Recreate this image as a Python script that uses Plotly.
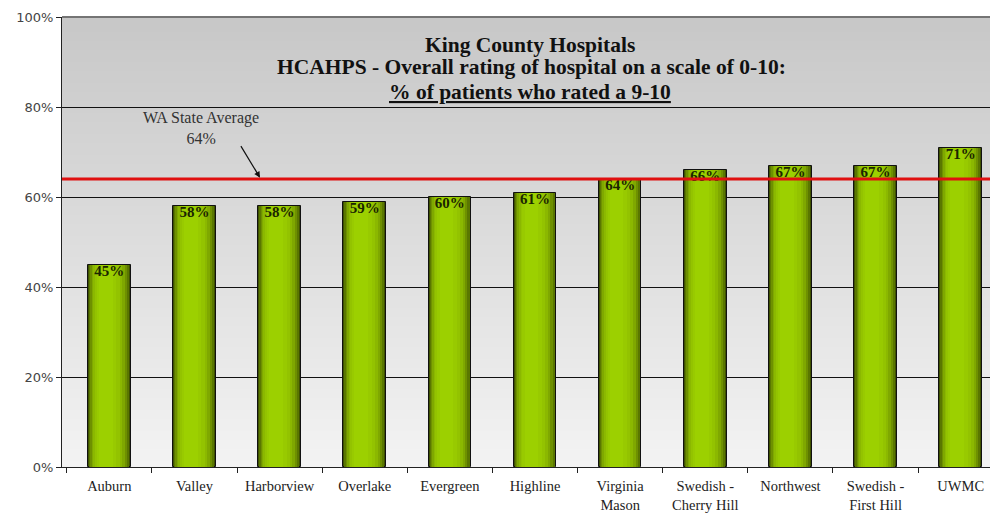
import plotly.graph_objects as go

hospitals = ["Auburn", "Valley", "Harborview", "Overlake", "Evergreen", "Highline",
             "Virginia<br>Mason", "Swedish -<br>Cherry Hill", "Northwest",
             "Swedish -<br>First Hill", "UWMC"]
pct_rated_9_10 = [45, 58, 58, 59, 60, 61, 64, 66, 67, 67, 71]
state_average = 64
y_ticks = [0, 20, 40, 60, 80, 100]
y_tick_labels = ["0%", "20%", "40%", "60%", "80%", "100%"]

fig = go.Figure()

# cylindrical shading built from overlaid bars of decreasing width
layers = [
    (0.50, "#3f5200"),
    (0.47, "#5a7700"),
    (0.43, "#6e9000"),
    (0.39, "#7fa800"),
    (0.34, "#8bb800"),
    (0.29, "#93c300"),
    (0.23, "#98ca00"),
    (0.16, "#9cd000"),
]
for i, (w, c) in enumerate(layers):
    off = -0.25 + (0.5 - w) * 0.38
    fig.add_trace(go.Bar(
        x=hospitals, y=pct_rated_9_10, width=w, offset=off,
        marker=dict(color=c, line=dict(color="#111" if i == 0 else c, width=1 if i == 0 else 0)),
        hoverinfo="skip", showlegend=False,
    ))

fig.add_trace(go.Scatter(
    x=hospitals, y=pct_rated_9_10, mode="text",
    text=[f"<b>{v}%</b>" for v in pct_rated_9_10],
    textposition="bottom center",
    textfont=dict(family="Liberation Serif", size=15, color="#1b2600"),
    showlegend=False, hoverinfo="skip", cliponaxis=False,
))

# background gradient
shapes = []
n = 150
for k in range(n):
    t = k / n
    g = int(round(243 - (243 - 199) * t))
    shapes.append(dict(type="rect", xref="paper", yref="paper", x0=0, x1=1,
                       y0=t, y1=(k + 1) / n + 0.002, fillcolor=f"rgb({g},{g},{g})",
                       line=dict(width=0), layer="below"))
# state average line
shapes.append(dict(type="line", xref="paper", yref="y", x0=0, x1=1,
                   y0=state_average, y1=state_average,
                   line=dict(color="#e01010", width=3), layer="above"))
# top border
shapes.append(dict(type="line", xref="paper", yref="paper", x0=0, x1=1, y0=1, y1=1,
                   line=dict(color="#222", width=1)))

W = 1000
PW = W - 54

fig.update_layout(
    width=W, height=508,
    margin=dict(l=54, r=0, t=9, b=49),
    paper_bgcolor="white", plot_bgcolor="rgba(0,0,0,0)",
    barmode="overlay", bargap=0,
    shapes=shapes,
    showlegend=False,
    xaxis=dict(type="category", tickson="boundaries", ticks="outside", ticklen=5,
               tickcolor="#222", showline=True, linecolor="#222", linewidth=1,
               showgrid=False, ticklabelstandoff=6,
               tickfont=dict(family="Liberation Serif", size=14.5, color="#222")),
    yaxis=dict(range=[0, 100], tickvals=y_ticks, ticktext=y_tick_labels,
               ticks="outside", ticklen=5, tickcolor="#222",
               showline=True, linecolor="#222", linewidth=1,
               showgrid=True, gridcolor="#111", gridwidth=1, zeroline=False,
               tickfont=dict(family="DejaVu Sans", size=13, color="#444")),
    annotations=[
        dict(xref="paper", yref="paper", x=(530 - 62) / PW, y=0.938, xanchor="center", yanchor="middle",
             text="<b>King County Hospitals</b>", showarrow=False,
             font=dict(family="Liberation Serif", size=21.5, color="#111")),
        dict(xref="paper", yref="paper", x=(531 - 62) / PW, y=0.888, xanchor="center", yanchor="middle",
             text="<b>HCAHPS - Overall rating of hospital on a scale of 0-10:</b>", showarrow=False,
             font=dict(family="Liberation Serif", size=21.5, color="#111")),
        dict(xref="paper", yref="paper", x=(530 - 62) / PW, y=0.833, xanchor="center", yanchor="middle",
             text="<b><span style='text-decoration:underline'>% of patients who rated a 9-10</span></b>",
             showarrow=False,
             font=dict(family="Liberation Serif", size=21.5, color="#111")),
        dict(xref="paper", yref="y", x=(260 - 62) / PW, y=state_average + 0.3,
             ax=-20, ay=-33, axref="pixel", ayref="pixel",
             text="", showarrow=True, arrowhead=2, arrowsize=1, arrowwidth=1.2, arrowcolor="#111"),
        dict(xref="paper", yref="paper", x=(201 - 62) / PW, y=0.801, xanchor="center", yanchor="top",
             text="WA State Average<br>64%", showarrow=False,
             font=dict(family="Liberation Serif", size=16, color="#333")),
    ],
)

fig.write_html("out.html")
